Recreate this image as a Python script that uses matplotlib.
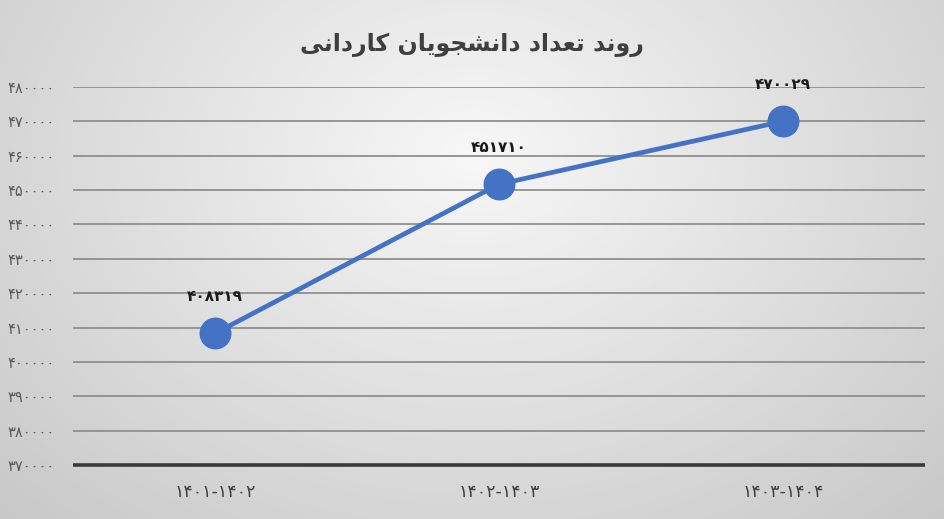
import numpy as np
import matplotlib
matplotlib.use("Agg")
import matplotlib.pyplot as plt

# ---- data ----
title_text = "روند تعداد دانشجویان کاردانی"
categories = ["۱۴۰۱-۱۴۰۲", "۱۴۰۲-۱۴۰۳", "۱۴۰۳-۱۴۰۴"]
values = [408319, 451710, 470029]
value_labels = ["۴۰۸۳۱۹", "۴۵۱۷۱۰", "۴۷۰۰۲۹"]
y_ticks = [370000, 380000, 390000, 400000, 410000, 420000, 430000, 440000, 450000, 460000, 470000, 480000]

# ---- minimal Persian shaping (presentation forms + RTL order) ----
FORMS = {  # isolated, final, initial, medial
    'ا': ('\uFE8D', '\uFE8E', None, None),
    'د': ('\uFEA9', '\uFEAA', None, None),
    'ر': ('\uFEAD', '\uFEAE', None, None),
    'و': ('\uFEED', '\uFEEE', None, None),
    'ن': ('\uFEE5', '\uFEE6', '\uFEE7', '\uFEE8'),
    'ت': ('\uFE95', '\uFE96', '\uFE97', '\uFE98'),
    'ع': ('\uFEC9', '\uFECA', '\uFECB', '\uFECC'),
    'ش': ('\uFEB5', '\uFEB6', '\uFEB7', '\uFEB8'),
    'ج': ('\uFE9D', '\uFE9E', '\uFE9F', '\uFEA0'),
    'ی': ('\uFBFC', '\uFBFD', '\uFBFE', '\uFBFF'),
    'ک': ('\uFB8E', '\uFB8F', '\uFB90', '\uFB91'),
}

def shape_word(w):
    out = []
    n = len(w)
    for i, ch in enumerate(w):
        f = FORMS.get(ch)
        if f is None:
            out.append(ch)
            continue
        prev_joins = i > 0 and w[i-1] in FORMS and FORMS[w[i-1]][2] is not None
        next_joins = i < n - 1 and w[i+1] in FORMS and f[2] is not None
        if prev_joins and next_joins:
            out.append(f[3])
        elif prev_joins:
            out.append(f[1])
        elif next_joins:
            out.append(f[2])
        else:
            out.append(f[0])
    return ''.join(out)

def shape(text):
    words = text.split(' ')
    return ' '.join(shape_word(w)[::-1] for w in reversed(words))

def fa_digits(n):
    return str(n).translate(str.maketrans('0123456789', '۰۱۲۳۴۵۶۷۸۹'))

plt.rcParams['font.family'] = ['DejaVu Sans']

W, H = 945, 519
fig = plt.figure(figsize=(W/100, H/100), dpi=100)

# background radial gradient
bg = fig.add_axes([0, 0, 1, 1], zorder=0)
yy, xx = np.mgrid[0:H, 0:W]
r = np.sqrt(((xx - W*0.5)/(W*0.65))**2 + ((yy - H*0.3)/(H*0.9))**2)
g = np.clip(0.97 - 0.17*r, 0.78, 1.0)
bg.imshow(np.dstack([g, g, g]), aspect='auto', extent=[0, 1, 0, 1])
bg.axis('off')

ax = fig.add_axes([73/W, 1-465/H, (925-73)/W, (465-87)/H], zorder=1)
ax.patch.set_alpha(0)

x = np.arange(len(categories))
ax.plot(x, values, color='#4472C4', lw=3.4, marker='o', ms=22,
        markerfacecolor='#4472C4', markeredgecolor='#4472C4', zorder=3,
        solid_capstyle='round')

for xi, v, lab in zip(x, values, value_labels):
    ax.annotate(lab, (xi, v), xytext=(0, 21), textcoords='offset points',
                ha='center', va='bottom', fontsize=11, fontweight='bold',
                color='#1a1a1a')

ax.set_xlim(-0.5, len(categories) - 0.5)
ax.set_ylim(370000, 480000)
ax.set_yticks(y_ticks)
ax.set_yticklabels([fa_digits(t) for t in y_ticks], fontsize=10.5, color='#595959')
for t in ax.get_yticklabels():
    t.set_horizontalalignment('left')
ax.tick_params(axis='y', length=0, pad=47.5)
ax.set_xticks(x)
ax.set_xticklabels(categories, fontsize=12.5, color='#404040')
ax.tick_params(axis='x', length=0, pad=13)

ax.grid(axis='y', color='#8f8f8f', lw=1.3)
ax.set_axisbelow(True)
for s in ['top', 'right', 'left']:
    ax.spines[s].set_visible(False)
ax.spines['bottom'].set_color('#3a3a3a')
ax.spines['bottom'].set_linewidth(2.6)
ax.spines['bottom'].set_capstyle('butt')

fig.text(472/W, 1-45/H, shape(title_text), ha='center', va='center',
         fontsize=17, fontweight='bold', color='#3f3f3f')

fig.savefig('out.png', dpi=100)
